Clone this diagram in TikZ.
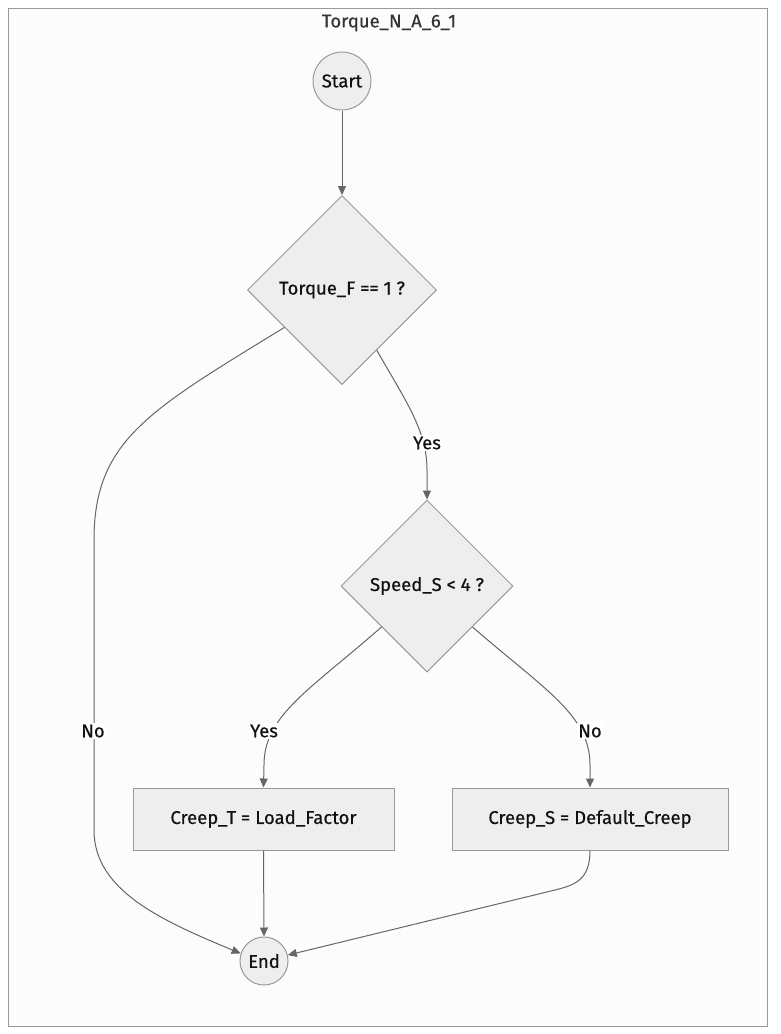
\documentclass[tikz,border=0pt]{standalone}
\usepackage{fontspec}
\setmainfont{Fira Sans}[UprightFeatures={FakeBold=0.4}]
\usetikzlibrary{shapes.geometric,arrows.meta}
\definecolor{framefill}{HTML}{FCFCFC}
\definecolor{framedraw}{HTML}{999999}
\definecolor{nodefill}{HTML}{EEEEEE}
\definecolor{nodedraw}{HTML}{999999}
\definecolor{edgecol}{HTML}{666666}
\definecolor{txt}{HTML}{111111}
\definecolor{titletxt}{HTML}{333333}
\newcommand{\labelfont}{\fontsize{18.5}{21}\selectfont}
\tikzset{
  base/.style={draw=nodedraw, fill=nodefill, line width=1pt, text=txt,
    font=\labelfont, inner sep=0pt},
  roundnode/.style={base, circle},
  decision/.style={base, diamond, aspect=1},
  process/.style={base, rectangle, minimum height=62pt},
  flow/.style={draw=edgecol, line width=1pt,
    -{Triangle[length=9pt,width=8pt]}},
  lbl/.style={fill=white, text=txt, inner sep=1.5pt, font=\labelfont},
}
\begin{document}
\begin{tikzpicture}[x=1pt,y=-1pt]
  \useasboundingbox (0,0) rectangle (781,1034);
  \fill[white] (0,0) rectangle (781,1034);
  % outer cluster frame
  \draw[framedraw, fill=framefill, line width=1.5pt] (8.5,8.5) rectangle (767.5,1026.5);
  \node[text=titletxt, font=\labelfont] (title) at (389,23) {Torque\_N\_A\_6\_1};

  % nodes
  \node[roundnode, minimum size=58pt] (start) at (342,81) {Start};
  \node[decision, minimum size=189pt] (d1) at (342,290) {Torque\_F == 1 ?};
  \node[decision, minimum size=172pt] (d2) at (427,586) {Speed\_S < 4 ?};
  \node[process, minimum width=261pt] (b1) at (263.5,819) {Creep\_T = Load\_Factor};
  \node[process, minimum width=276pt] (b2) at (590,819) {Creep\_S = Default\_Creep};
  \node[roundnode, minimum size=48pt] (end) at (264,961) {End};

  % connectors
  \draw[flow] (start) -- (d1);
  \draw[flow] (d1.-60) .. controls (405,400) and (427,430) .. (427,470) -- (d2.north);
  \draw[flow] (d1.-147) .. controls (150,410) and (94,440) .. (94,540)
     -- (94,830) .. controls (94,890) and (160,920) .. (end.162);
  \draw[flow] (d2.-138) .. controls (310,690) and (264,715) .. (264,765) -- (b1.north);
  \draw[flow] (d2.-42) .. controls (545,690) and (590,715) .. (590,765) -- (b2.north);
  \draw[flow] (b1.south) -- (end.north);
  \draw[flow] (b2.south) .. controls (590,880) and (575,885) .. (555,890) -- (end.14);

  % edge labels
  \node[lbl] (l1) at (427,443) {Yes};
  \node[lbl] (l2) at (93,731) {No};
  \node[lbl] (l3) at (264,731) {Yes};
  \node[lbl] (l4) at (590,731) {No};
\end{tikzpicture}
\end{document}
